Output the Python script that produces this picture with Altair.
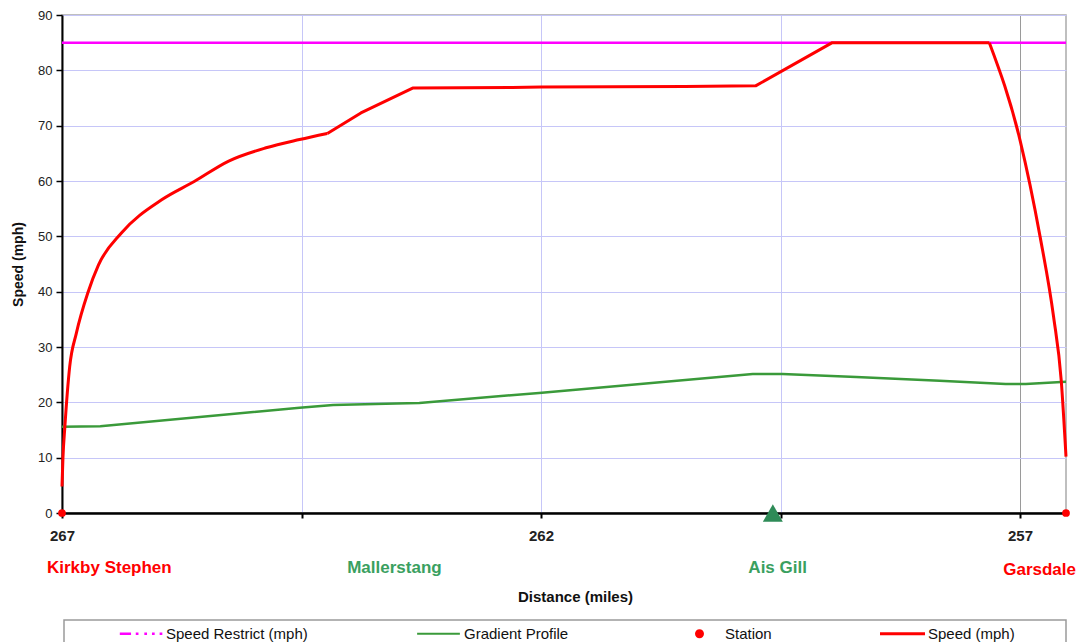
import altair as alt
import pandas as pd

FONT = "Liberation Sans"

# ---- data ----
speed_miles = [267.00, 266.99, 266.97, 266.92, 266.85, 266.73, 266.62, 266.38, 265.96, 265.62,
               265.26, 264.87, 264.52, 264.23, 263.88, 263.34, 262.30, 262.00, 260.50,
               259.76, 258.96, 257.32, 257.00, 256.79, 256.65, 256.57, 256.52]
speed_mph = [4.8, 10.0, 15.6, 26.4, 32.5, 39.8, 44.8, 50.6, 56.6, 59.9,
             63.6, 66.0, 67.5, 68.6, 72.3, 76.8, 76.9, 77.0, 77.1,
             77.2, 85.0, 85.0, 67.4, 49.9, 35.5, 24.0, 10.2]

grad_miles = [267.00, 266.60, 264.52, 264.17, 263.51, 263.27, 262.02, 259.79, 259.48,
              258.71, 257.84, 257.15, 256.94, 256.52]
grad_vals = [15.6, 15.7, 19.0, 19.5, 19.8, 19.9, 21.7, 25.1, 25.1,
             24.6, 23.9, 23.3, 23.3, 23.7]

restrict_miles = [267.00, 256.52]
restrict_mph = [85, 85]

station_names = ["Kirkby Stephen", "Garsdale"]
station_miles = [267.00, 256.52]
station_y = [0, 0]

summit_name = ["Ais Gill"]
summit_miles = [259.58]
summit_y = [0]

label_names_left = ["Kirkby Stephen"]
label_miles_left = [267.00]
label_names_mid = ["Mallerstang", "Ais Gill"]
label_miles_mid = [263.53, 259.53]
label_names_right = ["Garsdale"]
label_miles_right = [256.52]

x_ticks = [267, 264.5, 262, 259.5, 257]
y_ticks = [0, 10, 20, 30, 40, 50, 60, 70, 80, 90]

legend_names = ["Speed Restrict (mph)", "Gradient Profile", "Station", "Speed (mph)"]
legend_colors = ["#ff00ff", "#3a9a3a", "#ff0000", "#ff0000"]
legend_shapes = [
    "M-0.92,-0.06H-0.42V0.06H-0.92Z M-0.21,-0.06H-0.09V0.06H-0.21Z M0.17,-0.06H0.29V0.06H0.17Z M0.51,-0.06H0.63V0.06H0.51Z M0.85,-0.06H0.97V0.06H0.85Z",
    "M-0.95,-0.045H0.95V0.045H-0.95Z",
    "M0.2,0A0.2,0.2,0,1,1,-0.2,0A0.2,0.2,0,1,1,0.2,0Z",
    "M-1,-0.065H1V0.065H-1Z",
]

# ---- tables ----
speed_df = pd.DataFrame({"mile": speed_miles, "value": speed_mph})
grad_df = pd.DataFrame({"mile": grad_miles, "value": grad_vals})
restrict_df = pd.DataFrame({"mile": restrict_miles, "value": restrict_mph})
station_df = pd.DataFrame({"mile": station_miles, "value": station_y, "name": station_names})
summit_df = pd.DataFrame({"mile": summit_miles, "value": summit_y, "name": summit_name})
lab_left_df = pd.DataFrame({"mile": label_miles_left, "name": label_names_left})
lab_mid_df = pd.DataFrame({"mile": label_miles_mid, "name": label_names_mid})
lab_right_df = pd.DataFrame({"mile": label_miles_right, "name": label_names_right})
legend_df = pd.DataFrame({"series": legend_names})

x_scale = alt.Scale(domain=[256.52, 267.0], reverse=True, nice=False, zero=False)
y_scale = alt.Scale(domain=[0, 90], nice=False, zero=True)

x_axis = alt.Axis(
    values=x_ticks, format="d",
    labelExpr="datum.value % 5 === 2 ? datum.label : ''",
    title="Distance (miles)", grid=True,
    gridColor={"condition": {"test": "datum.value === 257", "value": "#9a9a9a"}, "value": "#c6c6f8"},
    gridWidth=1,
    domainColor="black", domainWidth=2.5, tickColor="black", tickSize=5, tickWidth=2,
    labelFont=FONT, labelFontSize=15, labelFontWeight="bold", labelColor="#222",
    labelPadding=10, labelFlush=False, labelOverlap=False,
    titleFont=FONT, titleFontSize=15, titleFontWeight="bold", titleColor="#111",
    titlePadding=46, titleX=513,
)
y_axis = alt.Axis(
    values=y_ticks, title="Speed (mph)", grid=True, gridColor="#c6c6f8", gridWidth=1,
    domainColor="black", domainWidth=2, tickColor="black", tickSize=6, tickWidth=1.5,
    labelFont=FONT, labelFontSize=13, labelColor="#222", labelPadding=4,
    labelFlush=False, labelOverlap=False,
    titleFont=FONT, titleFontSize=14, titleFontWeight="bold", titleColor="#111",
    titlePadding=12,
)

X = alt.X("mile:Q", scale=x_scale, axis=x_axis)
Y = alt.Y("value:Q", scale=y_scale, axis=y_axis)
Xn = alt.X("mile:Q", scale=x_scale)
Yn = alt.Y("value:Q", scale=y_scale)

restrict = alt.Chart(restrict_df).mark_line(color="#ff00ff", strokeWidth=2.5).encode(x=X, y=Y)
grad = alt.Chart(grad_df).mark_line(color="#3a9a3a", strokeWidth=2.5).encode(x=Xn, y=Yn)

# speed curve: smooth acceleration, straight middle, smooth braking
speed_base = alt.Chart(speed_df)
speed_a = speed_base.transform_filter("datum.mile >= 264.23").mark_line(
    color="#ff0000", strokeWidth=3, interpolate="monotone").encode(x=Xn, y=Yn)
speed_b = speed_base.transform_filter("datum.mile <= 264.23 && datum.mile >= 257.32").mark_line(
    color="#ff0000", strokeWidth=3, strokeJoin="round").encode(x=Xn, y=Yn)
speed_c = speed_base.transform_filter("datum.mile <= 257.32").mark_line(
    color="#ff0000", strokeWidth=3, interpolate="monotone").encode(x=Xn, y=Yn)

stations = alt.Chart(station_df).mark_point(shape="circle", filled=True, size=60, color="#ff0000", opacity=1).encode(
    x=Xn, y=Yn)
summit = alt.Chart(summit_df).mark_point(shape="triangle-up", filled=True, size=400, color="#2e8b57", opacity=1).encode(
    x=Xn, y=Yn)

lab_left = alt.Chart(lab_left_df).mark_text(
    align="left", baseline="middle", dx=-15, font=FONT, fontSize=17, fontWeight="bold", color="#ff0000"
).encode(x=Xn, y=alt.value(553), text="name:N")
lab_mid = alt.Chart(lab_mid_df).mark_text(
    align="center", baseline="middle", font=FONT, fontSize=17, fontWeight="bold", color="#3aa060"
).encode(x=Xn, y=alt.value(553), text="name:N")
lab_right = alt.Chart(lab_right_df).mark_text(
    align="right", baseline="middle", dx=10, font=FONT, fontSize=17, fontWeight="bold", color="#ff0000"
).encode(x=Xn, y=alt.value(555), text="name:N")

legend_frame = alt.Chart(alt.Data(values=[{}])).mark_rect(
    fill="white", fillOpacity=0, stroke="#9a9a9a", strokeWidth=1.5
).encode(x=alt.value(2), x2=alt.value(1004), y=alt.value(605), y2=alt.value(660))

leg = dict(
    title=None, orient="none", legendX=56, legendY=596, direction="horizontal", columns=4,
    columnPadding=108, symbolSize=2025, labelFont=FONT, labelFontSize=15, labelColor="#111",
    labelOffset=3, symbolStrokeWidth=0, padding=0, labelLimit=400,
)
legend_layer = alt.Chart(legend_df).transform_filter("false").mark_point(
    filled=True, opacity=1, size=2025, strokeWidth=0
).encode(
    color=alt.Color("series:N", scale=alt.Scale(domain=legend_names, range=legend_colors), legend=alt.Legend(**leg)),
    shape=alt.Shape("series:N", scale=alt.Scale(domain=legend_names, range=legend_shapes), legend=alt.Legend(**leg)),
)

chart = alt.layer(
    restrict, grad, speed_a, speed_b, speed_c, stations, summit,
    lab_left, lab_mid, lab_right, legend_frame, legend_layer
).properties(
    width=1004, height=498,
    autosize=alt.AutoSizeParams(type="none"),
    padding={"left": 54, "top": 7, "right": 11, "bottom": 137},
    background="white",
).configure_view(stroke="#aaaaaa", strokeWidth=1.5)

chart.save("out.html", embed_options={"renderer": "svg", "actions": False})
